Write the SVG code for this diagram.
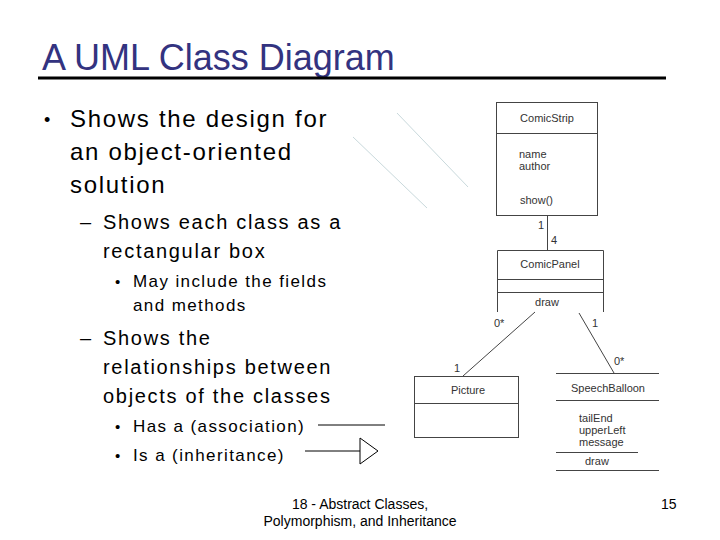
<svg xmlns="http://www.w3.org/2000/svg" width="720" height="540" viewBox="0 0 720 540">
<style>
.t{font-family:"Liberation Sans",Arial,sans-serif;fill:#000}
.b1{font-size:24px;letter-spacing:1.7px}
.b2{font-size:20px;letter-spacing:1.7px}
.b3{font-size:17px;letter-spacing:1.4px}
.u{font-family:"Liberation Sans",Arial,sans-serif;font-size:11px;fill:#333}
.box{fill:#fff;stroke:#444;stroke-width:1}
.ln{stroke:#444;stroke-width:1;fill:none}
.faint{stroke:#c9d9dc;stroke-width:1}
</style>
<rect width="720" height="540" fill="#fff"/>
<text x="42" y="70" font-family="'Liberation Sans',Arial,sans-serif" font-size="36" fill="#333380">A UML Class Diagram</text>
<line x1="38" y1="78" x2="666" y2="78" stroke="#000" stroke-width="3"/>
<g id="bullets">
<text class="t" x="44" y="126" font-size="18">•</text>
<text class="t b1" x="70" y="127">Shows the design for</text>
<text class="t b1" x="70" y="160">an object-oriented</text>
<text class="t b1" x="70" y="193">solution</text>
<text class="t b2" x="80" y="229">–</text>
<text class="t b2" x="103" y="229">Shows each class as a</text>
<text class="t b2" x="103" y="258">rectangular box</text>
<text class="t" x="115" y="287" font-size="15">•</text>
<text class="t b3" x="133" y="287">May include the fields</text>
<text class="t b3" x="133" y="311">and methods</text>
<text class="t b2" x="80" y="345">–</text>
<text class="t b2" x="103" y="345">Shows the</text>
<text class="t b2" x="103" y="374">relationships between</text>
<text class="t b2" x="103" y="403">objects of the classes</text>
<text class="t" x="115" y="432" font-size="15">•</text>
<text class="t b3" x="133" y="432">Has a (association)</text>
<text class="t" x="115" y="461" font-size="15">•</text>
<text class="t b3" x="133" y="461">Is a (inheritance)</text>
</g>
<g id="legend">
<line x1="318" y1="425" x2="385" y2="425" stroke="#000" stroke-width="1"/>
<line x1="305" y1="451" x2="360" y2="451" stroke="#000" stroke-width="1"/>
<polygon points="360,438 378,451 360,464" fill="#fff" stroke="#000" stroke-width="1"/>
</g>
<g id="faint-lines">
<line class="faint" x1="397" y1="113" x2="468" y2="187"/>
<line class="faint" x1="353" y1="137" x2="427" y2="208"/>
</g>
<g id="ComicStrip">
<rect class="box" x="496.5" y="102.5" width="101" height="113"/>
<line class="ln" x1="496.5" y1="133.5" x2="597.5" y2="133.5"/>
<text class="u" x="547" y="122" text-anchor="middle">ComicStrip</text>
<text class="u" x="519" y="158">name</text>
<text class="u" x="519" y="170">author</text>
<text class="u" x="520" y="204">show()</text>
</g>
<g id="ComicPanel">
<line class="ln" x1="497.5" y1="250.5" x2="603.5" y2="250.5"/>
<line class="ln" x1="497.5" y1="250.5" x2="497.5" y2="312"/>
<line class="ln" x1="603.5" y1="250.5" x2="603.5" y2="312"/>
<line class="ln" x1="497.5" y1="279.5" x2="603.5" y2="279.5"/>
<line class="ln" x1="497.5" y1="292.5" x2="603.5" y2="292.5"/>
<text class="u" x="550" y="268" text-anchor="middle">ComicPanel</text>
<text class="u" x="547" y="306" text-anchor="middle">draw</text>
</g>
<g id="Picture">
<rect class="box" x="414.5" y="376.5" width="104" height="61"/>
<line class="ln" x1="414.5" y1="403.5" x2="518.5" y2="403.5"/>
<text class="u" x="468" y="394" text-anchor="middle">Picture</text>
</g>
<g id="SpeechBalloon">
<line class="ln" x1="556" y1="373.5" x2="659" y2="373.5"/>
<line class="ln" x1="556" y1="400.5" x2="659" y2="400.5"/>
<line class="ln" x1="556" y1="452.5" x2="638" y2="452.5"/>
<line class="ln" x1="556" y1="470.5" x2="659" y2="470.5"/>
<text class="u" x="608" y="392" text-anchor="middle">SpeechBalloon</text>
<text class="u" x="579" y="422">tailEnd</text>
<text class="u" x="579" y="434">upperLeft</text>
<text class="u" x="579" y="446">message</text>
<text class="u" x="585" y="465">draw</text>
</g>
<g id="connectors">
<line class="ln" x1="547.5" y1="216" x2="547.5" y2="250"/>
<line class="ln" x1="535" y1="312" x2="463" y2="376"/>
<line class="ln" x1="579" y1="313" x2="614" y2="373"/>
<text class="u" x="538" y="229">1</text>
<text class="u" x="551" y="244">4</text>
<text class="u" x="494" y="327">0*</text>
<text class="u" x="592" y="327">1</text>
<text class="u" x="454" y="372">1</text>
<text class="u" x="614" y="365">0*</text>
</g>
<g id="footer">
<text x="360" y="509" text-anchor="middle" font-family="'Liberation Sans',Arial,sans-serif" font-size="14" fill="#000">18 - Abstract Classes,</text>
<text x="360" y="526" text-anchor="middle" font-family="'Liberation Sans',Arial,sans-serif" font-size="14" fill="#000">Polymorphism, and Inheritance</text>
<text x="661" y="509" font-family="'Liberation Sans',Arial,sans-serif" font-size="14" fill="#000">15</text>
</g>
</svg>
